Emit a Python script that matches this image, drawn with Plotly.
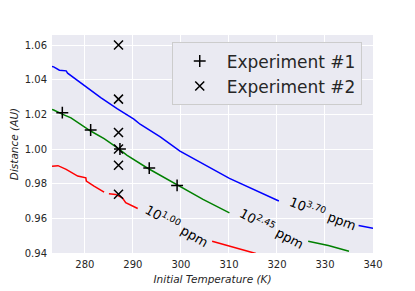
import plotly.graph_objects as go

# Experiment markers
exp1_temp = [275.3, 281.2, 287.3, 293.4, 299.2]
exp1_dist = [1.021, 1.011, 1.000, 0.989, 0.979]
exp2_temp = [287.0, 287.0, 287.0, 287.0, 287.0, 287.0]
exp2_dist = [1.060, 1.0288, 1.0095, 1.000, 0.9906, 0.9739]

# Contour lines (None = gap)
blue_temp = [273.15, 273.5, 274.7, 276.1, 276.4, 279.9, 283.3, 286.7, 290.2, 291.5, 295.7, 299.8, 310.1, 320.4, None, 337.0, 339.3, 340.0]
blue_dist = [1.0476, 1.0474, 1.0455, 1.0451, 1.0438, 1.0364, 1.0297, 1.0233, 1.0172, 1.0143, 1.0070, 0.9988, 0.9831, 0.9700, None, 0.9559, 0.9545, 0.9542]

green_temp = [273.15, 273.5, 275.4, 277.1, 281.2, 284.0, 286.7, 288.8, 292.9, 299.1, 304.6, 310.1, None, 326.5, 330.7, 335.0]
green_dist = [1.0228, 1.0225, 1.0200, 1.0180, 1.0104, 1.0060, 1.0008, 0.9964, 0.9892, 0.9796, 0.9709, 0.9632, None, 0.9468, 0.9443, 0.9410]

red_temp = [273.15, 274.4, 276.1, 278.5, 280.2, 280.3, 281.9, 284.0, None, 285.0, 286.4, 287.8, 288.5, 291.0, None, 306.5, 311.0, 315.6]
red_dist = [0.9900, 0.9904, 0.9883, 0.9844, 0.9834, 0.9815, 0.9786, 0.9751, None, 0.9742, 0.9738, 0.9719, 0.9690, 0.9657, None, 0.9468, 0.9432, 0.9397]

label_texts = ["10<sup>1.00</sup> ppm", "10<sup>2.45</sup> ppm", "10<sup>3.70</sup> ppm"]

x_ticks = [280, 290, 300, 310, 320, 330, 340]
y_ticks = [0.94, 0.96, 0.98, 1.00, 1.02, 1.04, 1.06]

FONT = "DejaVu Sans"
fig = go.Figure()

for xs, ys, col in [(blue_temp, blue_dist, "#0000ff"), (green_temp, green_dist, "#008000"), (red_temp, red_dist, "#ff0000")]:
    fig.add_trace(go.Scatter(x=xs, y=ys, mode="lines", line=dict(color=col, width=1.5),
                             connectgaps=False, showlegend=False, hoverinfo="skip"))

fig.add_trace(go.Scatter(x=exp1_temp, y=exp1_dist, mode="markers", name="Experiment #1",
                         marker=dict(symbol="cross-thin", size=8.5, color="black",
                                     line=dict(color="black", width=1.5))))
fig.add_trace(go.Scatter(x=exp2_temp, y=exp2_dist, mode="markers", name="Experiment #2",
                         marker=dict(symbol="x-thin", size=9, color="black",
                                     line=dict(color="black", width=1.5))))

label_pos = [(299.1, 0.9560, 30), (319.0, 0.9545, 28), (329.6, 0.9630, 21)]
for txt, (lx, ly, ang) in zip(label_texts, label_pos):
    fig.add_annotation(x=lx, y=ly, text=txt, showarrow=False, textangle=ang,
                       font=dict(family=FONT, size=13, color="black"))

fig.update_layout(
    width=415, height=291,
    margin=dict(l=44, r=50, t=27, b=46),
    paper_bgcolor="white", plot_bgcolor="#EAEAF2",
    font=dict(family=FONT, color="#262626", size=10),
    legend=dict(x=0.373, y=0.966, xanchor="left", yanchor="top", itemwidth=44,
                bgcolor="#EAEAF2", bordercolor="#cccccc", borderwidth=1,
                font=dict(family=FONT, size=17, color="#262626")),
    xaxis=dict(range=[273.15, 340], tickvals=x_ticks, showgrid=True, gridcolor="white", gridwidth=1,
               zeroline=False, showline=False, ticks="", automargin=False, ticklabelstandoff=4,
               title=dict(text="<i>Initial Temperature (K)</i>", font=dict(size=10.5), standoff=6)),
    yaxis=dict(range=[0.94, 1.0658], tickvals=y_ticks, tickformat=".2f", showgrid=True, gridcolor="white",
               gridwidth=1, zeroline=False, showline=False, ticks="", automargin=False, ticklabelstandoff=4,
               title=dict(text="<i>Distance (AU)</i>", font=dict(size=10.5), standoff=5)),
)

fig.write_html("out.html")
